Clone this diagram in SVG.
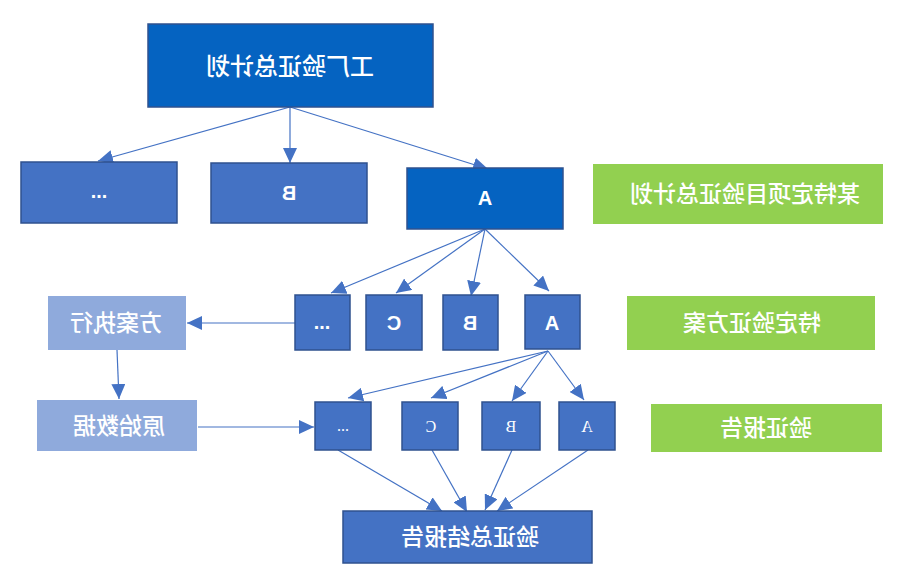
<svg xmlns="http://www.w3.org/2000/svg" width="918" height="587" viewBox="0 0 918 587">
<defs>
<marker id="ah" markerUnits="userSpaceOnUse" markerWidth="16" markerHeight="14" refX="15" refY="7" orient="auto">
<path d="M0,0 L15,7 L0,14 Z" fill="#4472C4"/>
</marker>
<style>
.dk{fill:#0563C1;stroke:#2F528F;stroke-width:1.5}
.md{fill:#4472C4;stroke:#2F528F;stroke-width:1.5}
.lt{fill:#8FAADC}
.gr{fill:#92D050}
.t{fill:#fff;font-family:"Liberation Sans","Noto Sans CJK SC",sans-serif;font-size:23px;font-weight:500;text-anchor:middle}
.l{fill:#fff;font-family:"Liberation Sans",sans-serif;font-size:20px;font-weight:bold;text-anchor:middle}
.s{fill:#fff;font-family:"Liberation Serif",serif;font-size:16px;text-anchor:middle}
.c{stroke:#4472C4;stroke-width:1.2;fill:none;marker-end:url(#ah)}
</style>
</defs>
<rect width="918" height="587" fill="#fff"/>
<g id="connectors">
<line class="c" x1="290" y1="107" x2="98" y2="161"/>
<line class="c" x1="290" y1="107" x2="290" y2="163"/>
<line class="c" x1="290" y1="107" x2="488" y2="169"/>
<line class="c" x1="485" y1="229" x2="331" y2="293"/>
<line class="c" x1="485" y1="229" x2="396" y2="293"/>
<line class="c" x1="485" y1="229" x2="471" y2="296"/>
<line class="c" x1="485" y1="229" x2="549" y2="291"/>
<line class="c" x1="295" y1="323" x2="187" y2="323"/>
<line class="c" x1="117" y1="350" x2="119" y2="399"/>
<line class="c" x1="198" y1="427" x2="314" y2="427"/>
<line class="c" x1="548" y1="351" x2="348" y2="398"/>
<line class="c" x1="548" y1="351" x2="431" y2="398"/>
<line class="c" x1="548" y1="351" x2="512" y2="401"/>
<line class="c" x1="548" y1="351" x2="584" y2="400"/>
<line class="c" x1="338" y1="450" x2="442" y2="511"/>
<line class="c" x1="432" y1="450" x2="467" y2="512"/>
<line class="c" x1="512" y1="450" x2="485" y2="510"/>
<line class="c" x1="588" y1="450" x2="497" y2="511"/>
</g>
<g id="n_top"><rect class="dk" x="148" y="24" width="285" height="83"/><text class="t" transform="scale(-1,1)" x="-290" y="75" style="font-size:24px">工厂验证总计划</text></g>
<g id="n_r2_dots"><rect class="md" x="21" y="162" width="156" height="61"/><text class="l" transform="scale(-1,1)" x="-99" y="198">...</text></g>
<g id="n_r2_b"><rect class="md" x="211" y="163" width="156" height="60"/><text class="l" transform="scale(-1,1)" x="-289" y="200">B</text></g>
<g id="n_r2_a"><rect class="dk" x="407" y="168" width="156" height="61"/><text class="l" transform="scale(-1,1)" x="-485" y="205">A</text></g>
<g id="n_plan"><rect class="gr" x="593" y="164" width="290" height="60"/><text class="t" transform="scale(-1,1)" x="-745" y="202">某特定项目验证总计划</text></g>
<g id="n_exec"><rect class="lt" x="48" y="296" width="138" height="54"/><text class="t" transform="scale(-1,1)" x="-116" y="331">方案执行</text></g>
<g id="n_r3_dots"><rect class="md" x="295" y="295" width="55" height="55"/><text class="l" transform="scale(-1,1)" x="-322" y="329">...</text></g>
<g id="n_r3_c"><rect class="md" x="366" y="295" width="56" height="55"/><text class="l" transform="scale(-1,1)" x="-394" y="330">C</text></g>
<g id="n_r3_b"><rect class="md" x="443" y="295" width="55" height="55"/><text class="l" transform="scale(-1,1)" x="-470" y="330">B</text></g>
<g id="n_r3_a"><rect class="md" x="525" y="295" width="55" height="54"/><text class="l" transform="scale(-1,1)" x="-552" y="330">A</text></g>
<g id="n_scheme"><rect class="gr" x="627" y="296" width="248" height="54"/><text class="t" transform="scale(-1,1)" x="-752" y="331">特定验证方案</text></g>
<g id="n_raw"><rect class="lt" x="37" y="400" width="160" height="51"/><text class="t" transform="scale(-1,1)" x="-119" y="434">原始数据</text></g>
<g id="n_r4_dots"><rect class="md" x="315" y="402" width="56" height="48"/><text class="s" transform="scale(-1,1)" x="-343" y="431">...</text></g>
<g id="n_r4_c"><rect class="md" x="402" y="402" width="56" height="48"/><text class="s" transform="scale(-1,1)" x="-431" y="432">C</text></g>
<g id="n_r4_b"><rect class="md" x="482" y="402" width="58" height="48"/><text class="s" transform="scale(-1,1)" x="-511" y="432">B</text></g>
<g id="n_r4_a"><rect class="md" x="559" y="402" width="56" height="48"/><text class="s" transform="scale(-1,1)" x="-587" y="432">A</text></g>
<g id="n_report"><rect class="gr" x="651" y="404" width="231" height="48"/><text class="t" transform="scale(-1,1)" x="-766" y="436">验证报告</text></g>
<g id="n_summary"><rect class="md" x="343" y="511" width="249" height="52"/><text class="t" transform="scale(-1,1)" x="-470" y="545">验证总结报告</text></g>
</svg>
